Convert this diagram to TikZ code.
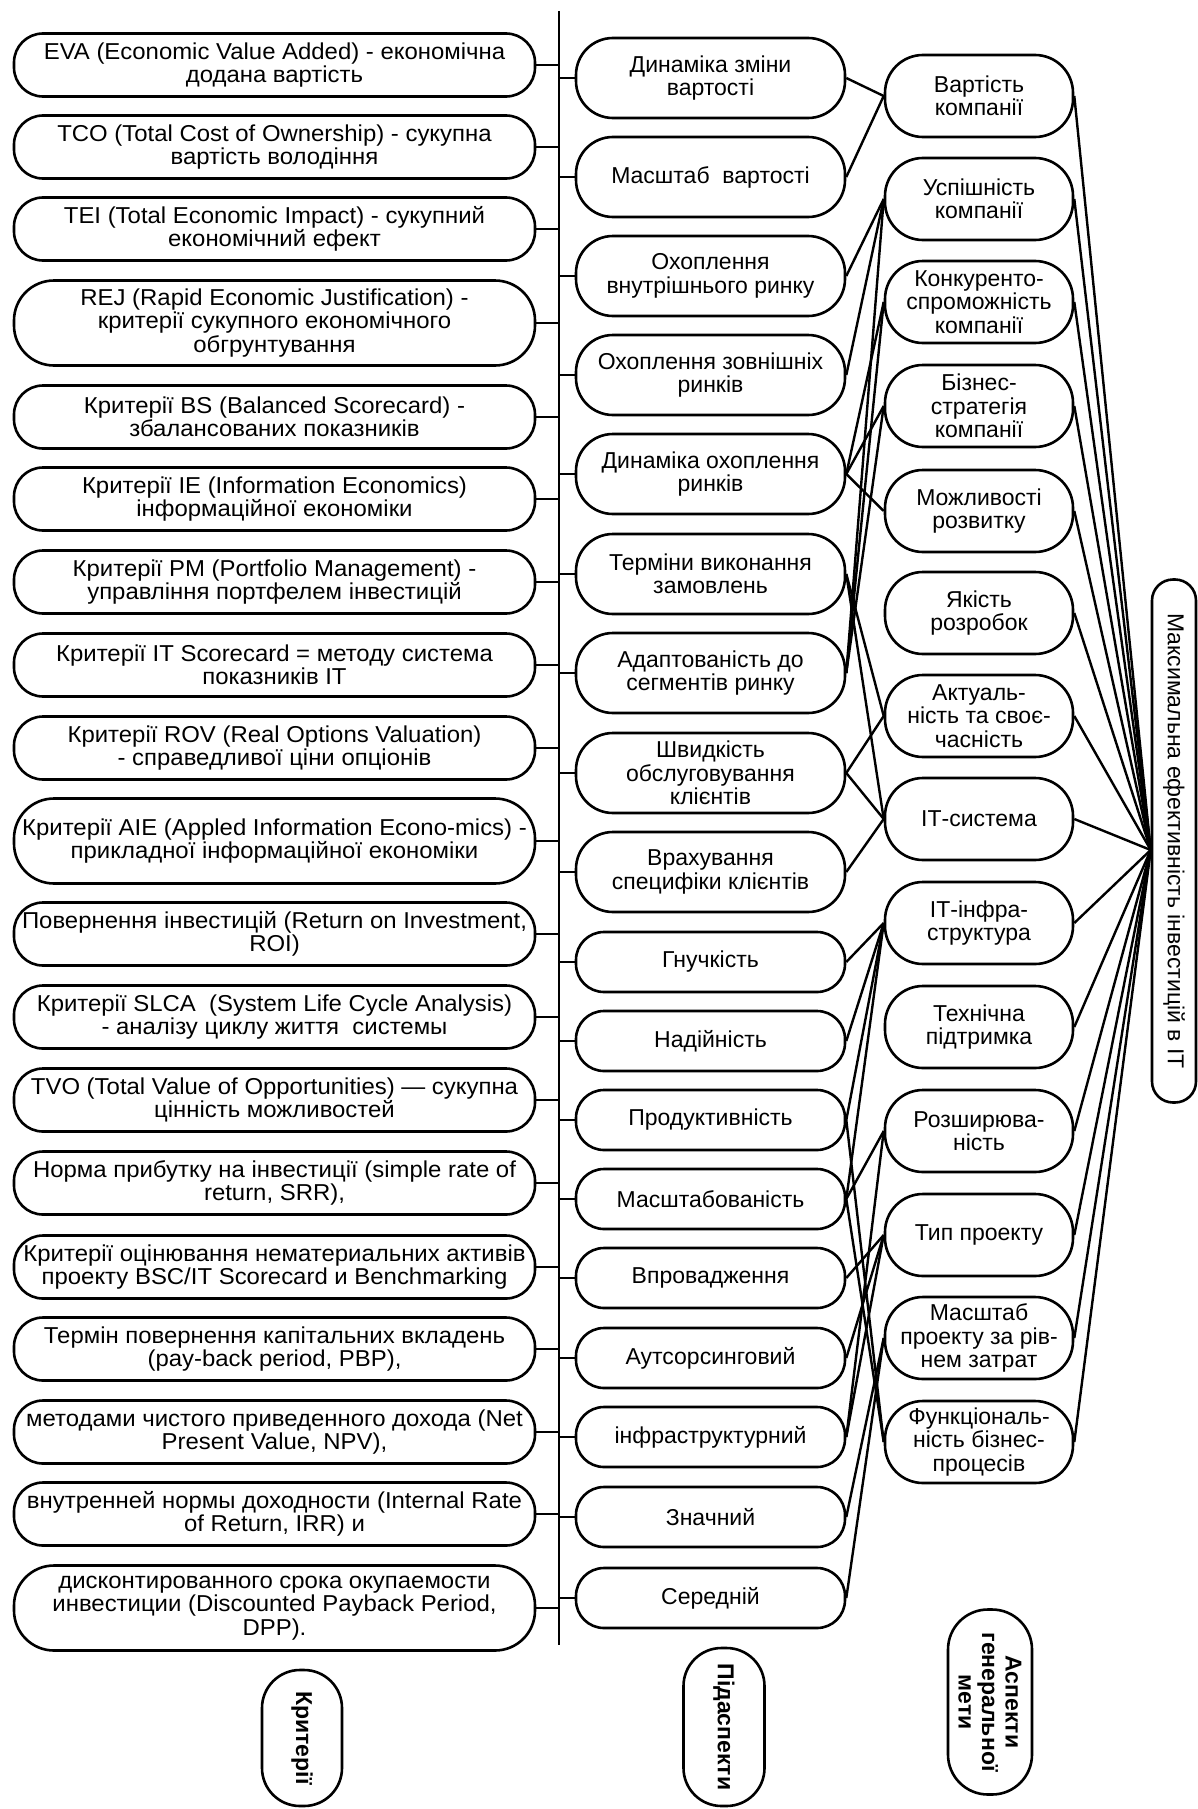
\documentclass[tikz,border=0pt]{standalone}
\usepackage{fontspec}
\setmainfont{Liberation Sans}
\newfontfamily\lfam{Liberation Sans}[FakeStretch=1.04]
\usetikzlibrary{calc}
\newcommand{\dfont}{\fontsize{23}{23.5}\selectfont}
\begin{document}
\begin{tikzpicture}[x=1pt,y=-1pt,
  base/.style={draw, line width=2.6pt, align=center, inner sep=1pt, font=\dfont},
  lbox/.style={base, font=\lfam\dfont, rounded corners=29pt, minimum width=521pt, minimum height=63pt},
  lboxt/.style={lbox, rounded corners=40pt, minimum height=85pt},
  mbox/.style={base, rounded corners=37pt, minimum width=269pt, minimum height=80pt},
  mboxs/.style={base, rounded corners=28pt, minimum width=269pt, minimum height=60pt},
  rbox/.style={base, rounded corners=38pt, minimum width=188pt, minimum height=82pt},
  tall/.style={base, rounded corners=21pt, rotate=-90, minimum width=523pt, minimum height=44pt},
  lab/.style={base, font=\dfont\bfseries, rotate=-90},
  conn/.style={line width=2.4pt}]
\fill[white] (0,0) rectangle (1198,1809);
\useasboundingbox (0,0) rectangle (1198,1809);

% left column: criteria
\node[lbox] (L1) at (274.5,65) {EVA (Economic Value Added) - економічна\\додана вартість};
\node[lbox] (L2) at (274.5,147) {TCO (Total Cost of Ownership) - сукупна\\вартість володіння};
\node[lbox] (L3) at (274.5,229) {TEI (Total Economic Impact) - сукупний\\економічний ефект};
\node[lboxt] (L4) at (274.5,323) {REJ (Rapid Economic Justification) -\\критерії сукупного економічного\\обгрунтування};
\node[lbox] (L5) at (274.5,417) {Критерії BS (Balanced Scorecard) -\\збалансованих показників};
\node[lbox] (L6) at (274.5,499) {Критерії IE (Information Economics)\\інформаційної економіки};
\node[lbox] (L7) at (274.5,582) {Критерії PM (Portfolio Management) -\\управління портфелем інвестицій};
\node[lbox] (L8) at (274.5,665) {Критерії IT Scorecard = методу система\\показників IT};
\node[lbox] (L9) at (274.5,748) {Критерії ROV (Real Options Valuation)\\- справедливої ціни опціонів};
\node[lboxt] (L10) at (274.5,841) {Критерії AIE (Appled Information Econo-mics) -\\прикладної інформаційної економіки};
\node[lbox] (L11) at (274.5,934) {Повернення інвестицій (Return on Investment,\\ROI)};
\node[lbox] (L12) at (274.5,1017) {Критерії SLCA~ (System Life Cycle Analysis)\\- аналізу циклу життя~ системы};
\node[lbox] (L13) at (274.5,1100) {TVO (Total Value of Opportunities) — сукупна\\цінність можливостей};
\node[lbox] (L14) at (274.5,1183) {Норма прибутку на інвестиції (simple rate of\\return, SRR),};
\node[lbox] (L15) at (274.5,1267) {Критерії оцінювання нематериальних активів\\проекту BSC/IT Scorecard и Benchmarking};
\node[lbox] (L16) at (274.5,1349) {Термін повернення капітальних вкладень\\(pay-back period, PBP),};
\node[lbox] (L17) at (274.5,1432) {методами чистого приведенного дохода (Net\\Present Value, NPV),};
\node[lbox] (L18) at (274.5,1514) {внутренней нормы доходности (Internal Rate\\of Return, IRR) и};
\node[lboxt] (L19) at (274.5,1608) {дисконтированного срока окупаемости\\инвестиции (Discounted Payback Period,\\DPP).};

% middle column: sub-aspects
\node[mbox] (M1) at (710.5,78) {Динаміка зміни\\вартості};
\node[mbox] (M2) at (710.5,177) {Масштаб~ вартості};
\node[mbox] (M3) at (710.5,276) {Охоплення\\внутрішнього ринку};
\node[mbox] (M4) at (710.5,375) {Охоплення зовнішніх\\ринків};
\node[mbox] (M5) at (710.5,474) {Динаміка охоплення\\ринків};
\node[mbox] (M6) at (710.5,574) {Терміни виконання\\замовлень};
\node[mbox] (M7) at (710.5,673) {Адаптованість до\\сегментів ринку};
\node[mbox] (M8) at (710.5,773) {Швидкість\\обслуговування\\клієнтів};
\node[mbox] (M9) at (710.5,872) {Врахування\\специфіки клієнтів};
\node[mboxs] (M10) at (710.5,962) {Гнучкість};
\node[mboxs] (M11) at (710.5,1041) {Надійність};
\node[mboxs] (M12) at (710.5,1120) {Продуктивність};
\node[mboxs] (M13) at (710.5,1199) {Масштабованість};
\node[mboxs] (M14) at (710.5,1278) {Впровадження};
\node[mboxs] (M15) at (710.5,1358) {Аутсорсинговий};
\node[mboxs] (M16) at (710.5,1437) {інфраструктурний};
\node[mboxs] (M17) at (710.5,1517) {Значний};
\node[mboxs] (M18) at (710.5,1598) {Середній};

% right column: aspects
\node[rbox] (R1) at (979,96) {Вартість\\компанії};
\node[rbox] (R2) at (979,199) {Успішність\\компанії};
\node[rbox] (R3) at (979,302) {Конкуренто-\\спроможність\\компанії};
\node[rbox] (R4) at (979,406) {Бізнес-\\стратегія\\компанії};
\node[rbox] (R5) at (979,511) {Можливості\\розвитку};
\node[rbox] (R6) at (979,613) {Якість\\розробок};
\node[rbox] (R7) at (979,716) {Актуаль-\\ність та своє-\\часність};
\node[rbox] (R8) at (979,819) {ІТ-система};
\node[rbox] (R9) at (979,923) {ІТ-інфра-\\структура};
\node[rbox] (R10) at (979,1027) {Технічна\\підтримка};
\node[rbox] (R11) at (979,1131) {Розширюва-\\ність};
\node[rbox] (R12) at (979,1235) {Тип проекту};
\node[rbox] (R13) at (979,1338) {Масштаб\\проекту за рів-\\нем затрат};
\node[rbox] (R14) at (979,1442) {Функціональ-\\ність бізнес-\\процесів};

% goal
\node[tall] (T) at (1174,841) {Максимальна ефективність інвестицій в ІТ};

% column labels
\node[lab, rounded corners=38pt, minimum width=136pt, minimum height=80pt] (C1) at (302,1738) {Критерії};
\node[lab, rounded corners=38pt, minimum width=158pt, minimum height=81pt] (C2) at (724,1727) {Підаспекти};
\node[lab, rounded corners=40pt, minimum width=185pt, minimum height=84pt] (C3) at (990,1702) {Аспекти\\генеральної\\мети};

% trunk line and ticks
\coordinate (vt) at (559,11);
\coordinate (vb) at (559,1645);
\draw[conn] (vt) -- (vb);
\foreach \i in {1,...,19} \draw[conn] (L\i.east) -- (L\i.east -| vt);
\foreach \i in {1,...,18} \draw[conn] (vt |- M\i.west) -- (M\i.west);

% sub-aspects to aspects
\foreach \m/\r in {1/1,2/1,3/2,4/2,7/2,5/3,7/3,5/4,7/4,5/5,6/7,8/7,6/8,8/8,9/8,
  10/9,11/9,12/9,13/9,13/11,16/11,14/12,15/12,16/12,17/13,18/13,12/14,13/14}
  \draw[conn] (M\m.east) -- (R\r.west);

% aspects to goal
\path (T.south) ++(0,9) coordinate (tp);
\foreach \i in {1,...,14} \draw[conn] (R\i.east) -- (tp);
\end{tikzpicture}
\end{document}
